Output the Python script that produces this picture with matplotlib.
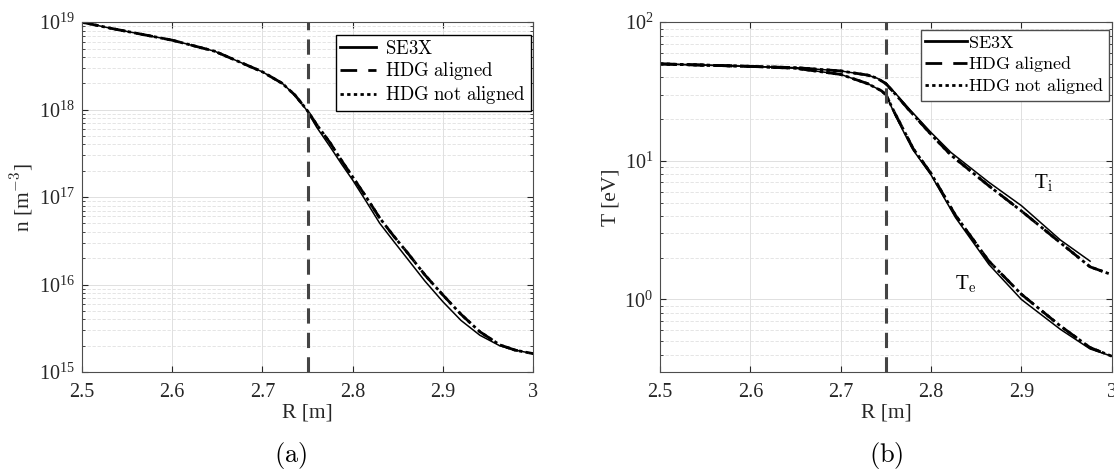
import numpy as np
import matplotlib
matplotlib.use("Agg")
import matplotlib.pyplot as plt
from matplotlib.ticker import LogLocator, NullFormatter

plt.rcParams['font.family'] = ['Liberation Serif', 'DejaVu Serif']
plt.rcParams['mathtext.fontset'] = 'cm'

# panel (a): density, log10 of n [m^-3]
r_n = [2.5, 2.533, 2.6, 2.647, 2.7, 2.722, 2.736, 2.749, 2.76, 2.775, 2.7875, 2.8,
       2.815, 2.83, 2.845, 2.861, 2.88, 2.9, 2.92, 2.941, 2.963, 2.98, 3.0]
logn_se3x = [19.0, 18.928, 18.794, 18.668, 18.432, 18.30, 18.166, 17.994, 17.80, 17.575, 17.38, 17.194,
             16.95, 16.70, 16.50, 16.29, 16.04, 15.803, 15.59, 15.42, 15.30, 15.25, 15.21]
logn_hdg = [19.0, 18.928, 18.794, 18.668, 18.432, 18.30, 18.166, 18.0, 17.83, 17.62, 17.42, 17.23,
            17.0, 16.76, 16.56, 16.36, 16.11, 15.88, 15.66, 15.46, 15.31, 15.25, 15.21]

# panel (b): temperatures [eV]
r_ti = [2.5, 2.6, 2.65, 2.7, 2.73, 2.74, 2.75, 2.76, 2.775, 2.8, 2.822, 2.864, 2.9, 2.943, 2.976]
ti_se3x = [50, 48, 47, 44.5, 41.5, 39.5, 36.5, 31, 24, 16, 11.5, 7.0, 4.75, 2.69, 1.89]
r_ti_hdg = [2.5, 2.6, 2.65, 2.7, 2.73, 2.74, 2.75, 2.76, 2.775, 2.8, 2.822, 2.864, 2.9, 2.943, 2.976, 3.0]
ti_hdg = [50, 48, 47, 44.5, 41.5, 39.5, 36, 30.5, 23.5, 15.5, 11.0, 6.6, 4.35, 2.57, 1.72, 1.51]
r_te = [2.5, 2.6, 2.65, 2.7, 2.73, 2.745, 2.75, 2.76, 2.77, 2.78, 2.8, 2.827, 2.864, 2.9, 2.943, 2.976, 3.0]
te_se3x = [50, 48, 46.5, 42, 36, 32, 30, 21.5, 16, 12, 7.9, 3.9, 1.79, 1.0, 0.61, 0.44, 0.39]
te_hdg = [50, 48, 46.5, 42, 36, 32, 30, 22, 16.5, 12.3, 8.1, 4.05, 1.89, 1.09, 0.645, 0.45, 0.39]

r_sep = 2.75
labels = [r'$\mathrm{SE3X}$', r'$\mathrm{HDG\ aligned}$', r'$\mathrm{HDG\ not\ aligned}$']
gray = '#4d4d4d'


def style_axes(ax, ylo, yhi):
    ax.set_yscale('log')
    ax.set_xlim(2.5, 3.0)
    ax.set_ylim(ylo, yhi)
    ax.set_xticks([2.5, 2.6, 2.7, 2.8, 2.9, 3.0])
    ax.set_xticklabels(['2.5', '2.6', '2.7', '2.8', '2.9', '3'])
    ax.yaxis.set_major_locator(LogLocator(base=10, numticks=20))
    ax.yaxis.set_minor_locator(LogLocator(base=10, subs=np.arange(2, 10), numticks=20))
    ax.yaxis.set_minor_formatter(NullFormatter())
    ax.grid(True, which='major', color='#e0e0e0', lw=0.7)
    ax.grid(True, which='minor', axis='y', color='#e0e0e0', lw=0.6, ls=(0, (4, 2)))
    ax.set_axisbelow(True)
    ax.tick_params(which='both', direction='in', top=True, right=True,
                   labelsize=14.5, colors='#262626', length=4)
    ax.tick_params(axis='x', pad=8)
    ax.tick_params(axis='y', pad=5)
    ax.tick_params(which='minor', length=2.5)
    for s in ax.spines.values():
        s.set_color(gray)
        s.set_linewidth(0.8)
    ax.axvline(r_sep, color='#444444', lw=2.2, ls=(0, (5, 3)))
    ax.set_xlabel('R [m]', fontsize=15.5, color='#262626', labelpad=1)


def add_legend(ax, anchor, edge, hl, pad, fs):
    leg = ax.legend(loc='upper right', bbox_to_anchor=anchor, fontsize=fs,
                    fancybox=False, edgecolor=edge, framealpha=1, borderpad=0.25,
                    handlelength=hl, handletextpad=pad, labelspacing=0.12,
                    borderaxespad=0)
    leg.get_frame().set_linewidth(1.0)
    for h in leg.legend_handles:
        h.set_linewidth(2.0)


fig = plt.figure(figsize=(11.14, 4.74), dpi=100)
ax1 = fig.add_axes([0.0736, 0.2152, 0.405, 0.738])
ax2 = fig.add_axes([0.5925, 0.2152, 0.4055, 0.738])

# (a)
n_se3x = [10 ** v for v in logn_se3x]
n_hdg = [10 ** v for v in logn_hdg]
ax1.plot(r_n, n_se3x, color='k', lw=1.1, ls='-', label=labels[0])
ax1.plot(r_n, n_hdg, color='k', lw=2.0, ls=(0, (6, 4)), label=labels[1])
ax1.plot(r_n, n_hdg, color='k', lw=2.0, ls=(0, (1.2, 1.2)), label=labels[2])
style_axes(ax1, 1e15, 1e19)
ax1.set_ylabel('n [m$^{-3}$]', fontsize=15.5, color='#262626', labelpad=3)
add_legend(ax1, (0.995, 0.963), 'k', 1.9, 0.5, 13.5)

# (b)
ax2.plot(r_ti, ti_se3x, color='k', lw=1.1, ls='-', label=labels[0])
ax2.plot(r_ti_hdg, ti_hdg, color='k', lw=2.0, ls=(0, (6, 4)), label=labels[1])
ax2.plot(r_ti_hdg, ti_hdg, color='k', lw=2.0, ls=(0, (1.2, 1.2)), label=labels[2])
ax2.plot(r_te, te_se3x, color='k', lw=1.1, ls='-')
ax2.plot(r_te, te_hdg, color='k', lw=2.0, ls=(0, (6, 4)))
ax2.plot(r_te, te_hdg, color='k', lw=2.0, ls=(0, (1.2, 1.2)))
style_axes(ax2, 0.3, 100)
ax2.set_ylabel('T [eV]', fontsize=15.5, color='#262626', labelpad=3)
ax2.text(2.925, 6.9, 'T$_\\mathrm{i}$', fontsize=15, ha='center', va='center')
ax2.text(2.838, 1.28, 'T$_\\mathrm{e}$', fontsize=15, ha='center', va='center')
add_legend(ax2, (0.993, 0.977), gray, 2.3, 0.1, 13)

fig.text(0.2605, 0.04, r'$\mathrm{(a)}$', fontsize=19, ha='center', va='center')
fig.text(0.7955, 0.04, r'$\mathrm{(b)}$', fontsize=19, ha='center', va='center')

fig.savefig('out.png', dpi=100)
